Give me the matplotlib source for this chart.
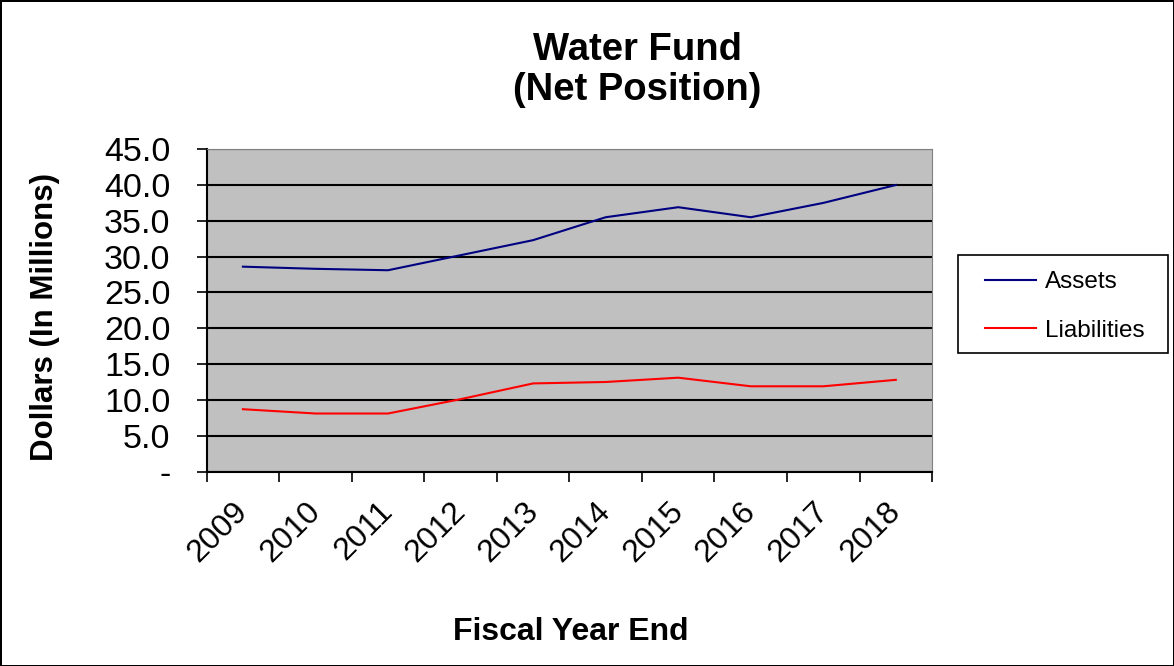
import matplotlib.pyplot as plt
from matplotlib.ticker import FuncFormatter, FixedLocator
from matplotlib.transforms import ScaledTranslation
from matplotlib.patches import Rectangle

plt.rcParams['font.family'] = ['Liberation Sans', 'DejaVu Sans']

years = ['2009', '2010', '2011', '2012', '2013', '2014', '2015', '2016', '2017', '2018']
assets = [28.6, 28.3, 28.1, 30.2, 32.3, 35.5, 36.9, 35.5, 37.5, 40.0]
liabilities = [8.7, 8.1, 8.1, 10.1, 12.3, 12.5, 13.1, 11.9, 11.9, 12.8]

W, H = 1174, 666
fig = plt.figure(figsize=(W / 100, H / 100), dpi=100, edgecolor='black', linewidth=2)
ax = fig.add_axes([0.176, 0.292, 0.618, 0.484])
ax.set_facecolor('#C0C0C0')

x = list(range(len(years)))
ax.plot(x, assets, color='#000080', lw=1.5, label='Assets', zorder=3)
ax.plot(x, liabilities, color='#FF0000', lw=1.5, label='Liabilities', zorder=3)

ax.set_xlim(-0.5, len(years) - 0.5)
ax.set_ylim(0, 45)
ax.set_yticks(range(0, 50, 5))
ax.yaxis.set_major_formatter(FuncFormatter(lambda v, p: '-' if v == 0 else f'{v:.1f}'))
ax.yaxis.grid(True, color='black', lw=1.5)
ax.set_axisbelow(True)

ax.set_xticks(x)
ax.set_xticklabels(years, rotation=45, ha='right', va='top', rotation_mode='anchor')
ax.xaxis.set_minor_locator(FixedLocator([i - 0.5 for i in range(len(years) + 1)]))
ax.tick_params(axis='x', which='major', length=0, pad=18, labelsize=23)
ax.tick_params(axis='x', which='minor', length=7, width=1.2, direction='out')
ax.tick_params(axis='y', length=7, width=1.2, labelsize=24.5, pad=19)
# nudge the rotated year labels left (after tick_params, which resets transforms)
shift = ScaledTranslation(-0.10, 0, fig.dpi_scale_trans)
for lab in ax.get_xticklabels():
    lab.set_transform(lab.get_transform() + shift)

for s in ['top', 'right']:
    ax.spines[s].set_color('#808080')
for s in ['left', 'bottom']:
    ax.spines[s].set_linewidth(1.5)

fig.text(0.038, 0.524, 'Dollars (In Millions)', rotation=90, ha='center', va='center',
         fontsize=22.5, fontweight='bold')
fig.text(0.486, 0.051, 'Fiscal Year End', ha='center', va='center', fontsize=23, fontweight='bold')
fig.text(0.543, 0.895, 'Water Fund\n(Net Position)', ha='center', va='center',
         fontsize=27.5, fontweight='bold', linespacing=1.15)

# legend box drawn separately so padding can differ horizontally and vertically
fig.add_artist(Rectangle((958 / W, 1 - 353 / H), 210 / W, 98 / H, transform=fig.transFigure,
                         fill=False, ec='black', lw=1.2))
ax.legend(loc='upper left', bbox_to_anchor=(985 / W, 1 - 271 / H),
          bbox_transform=fig.transFigure, fontsize=17.5, frameon=False,
          handlelength=2.1, handletextpad=0.35, labelspacing=1.1,
          borderpad=0, borderaxespad=0)

fig.savefig('out.png', dpi=100, edgecolor=fig.get_edgecolor())
